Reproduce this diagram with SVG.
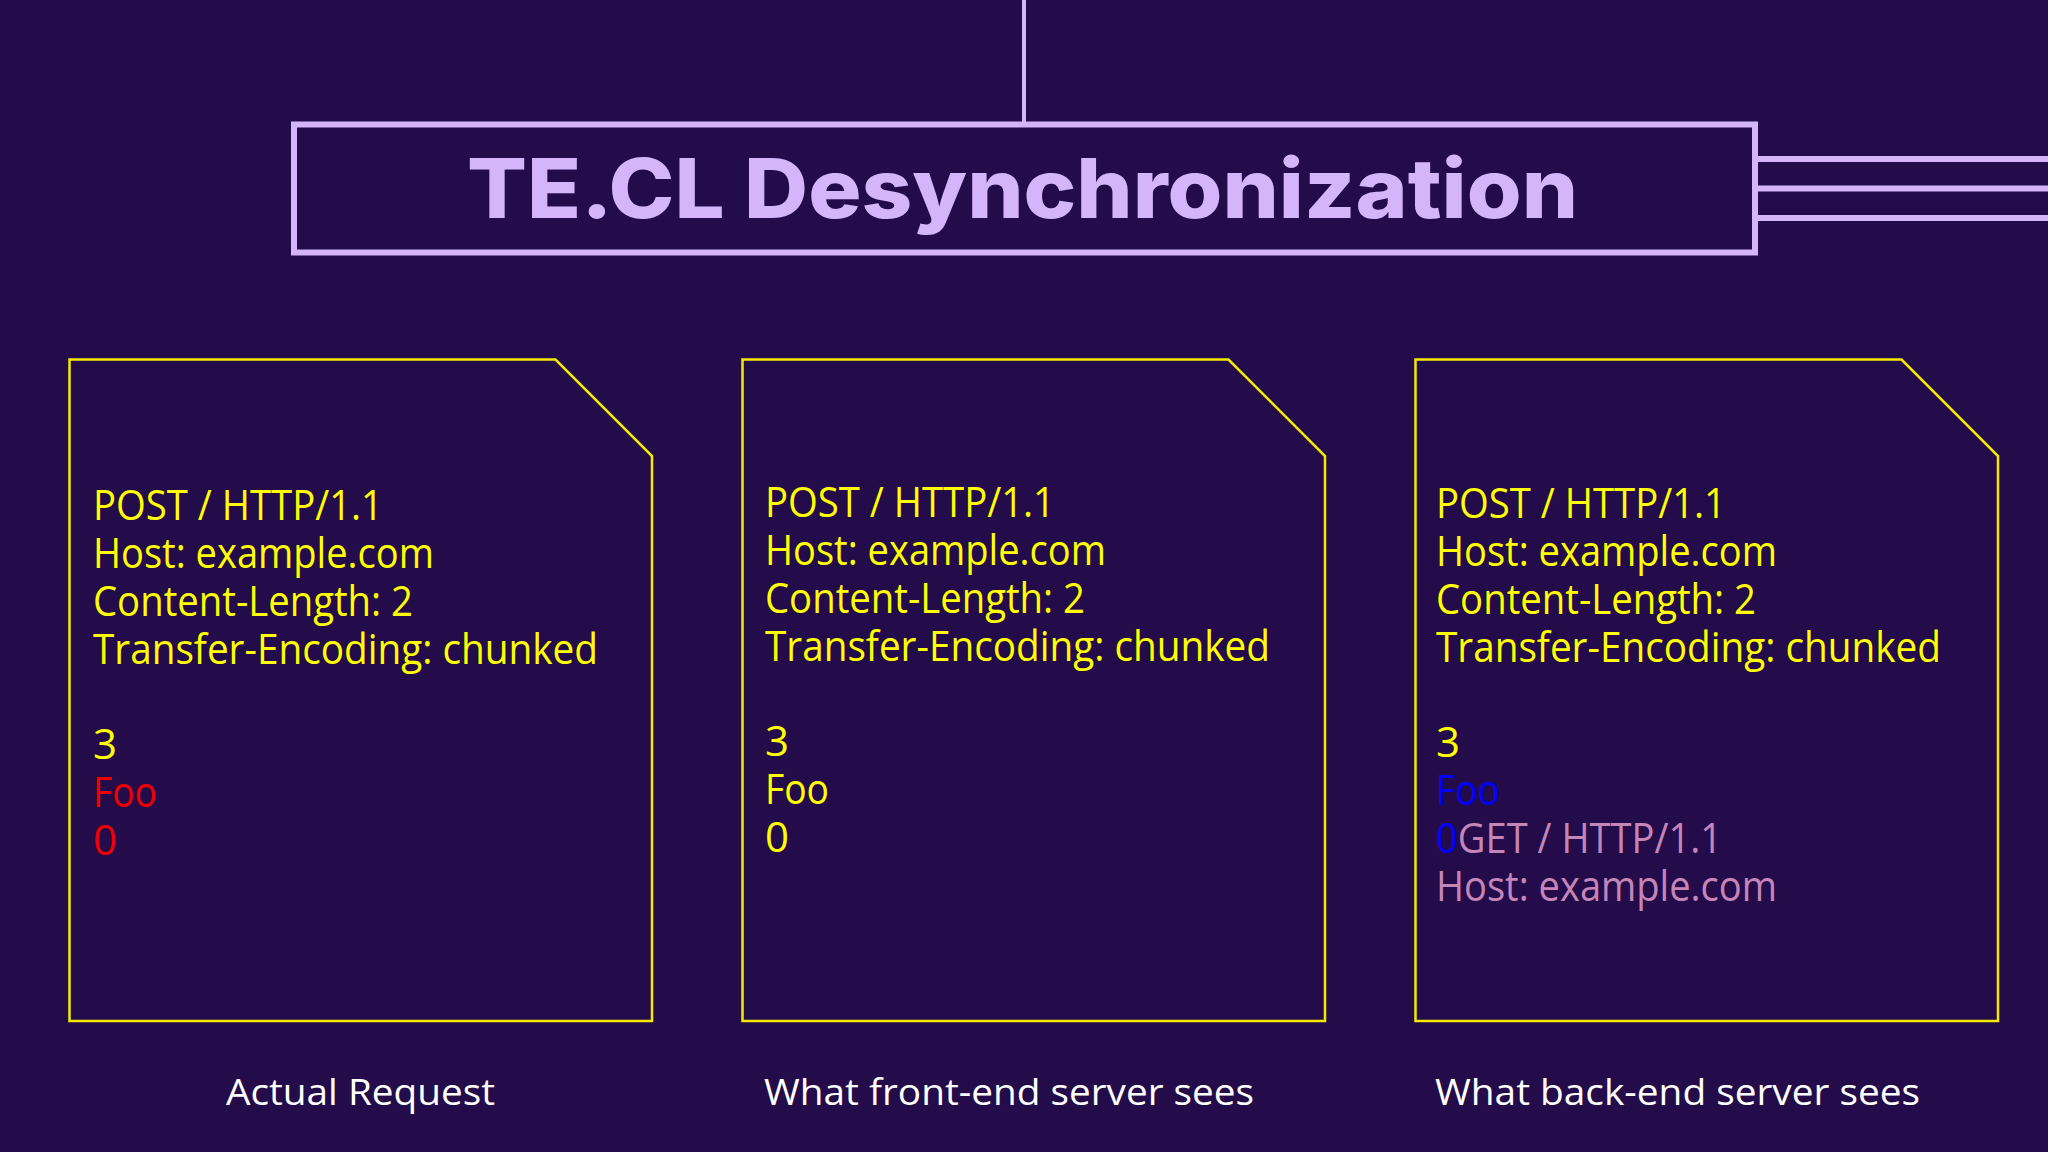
<svg xmlns="http://www.w3.org/2000/svg" width="2048" height="1152" viewBox="0 0 2048 1152">
  <style>
    .bg { fill: #240b4a; }
    .lav { stroke: #d4b5f9; fill: none; }
    .card { fill: none; stroke: #f5eb00; stroke-width: 2.5; }
    .title { font-family: Inter, "Open Sans", sans-serif; font-weight: 800; font-size: 82px; fill: #d4b5f9; }
    .code { font-family: "Open Sans", "Noto Sans", sans-serif; font-size: 42px; fill: #ffff00; }
    .red { fill: #ee0000; }
    .blue { fill: #0000ff; }
    .pink { fill: #c585b8; }
    .cap { font-family: "Open Sans", "Noto Sans", sans-serif; font-size: 37px; fill: #ffffff; }
  </style>
  <rect class="bg" x="0" y="0" width="2048" height="1152"/>

  <g id="connectors">
    <line class="lav" x1="1024" y1="0" x2="1024" y2="122" stroke-width="4"/>
    <line class="lav" x1="1757" y1="159" x2="2048" y2="159" stroke-width="6"/>
    <line class="lav" x1="1757" y1="188.5" x2="2048" y2="188.5" stroke-width="6"/>
    <line class="lav" x1="1757" y1="218" x2="2048" y2="218" stroke-width="6"/>
  </g>

  <g id="title">
    <rect class="lav" x="294" y="124.5" width="1461" height="128" stroke-width="6"/>
    <text class="title" x="467" y="218" textLength="1111" lengthAdjust="spacingAndGlyphs">TE.CL Desynchronization</text>
  </g>

  <g id="card-actual">
    <path class="card" d="M69.5 359.5 H555.5 L652 456 V1021 H69.5 Z"/>
    <text class="code" x="93" y="520" textLength="290" lengthAdjust="spacingAndGlyphs">POST / HTTP/1.1</text>
    <text class="code" x="93" y="568" textLength="341" lengthAdjust="spacingAndGlyphs">Host: example.com</text>
    <text class="code" x="93" y="616" textLength="320" lengthAdjust="spacingAndGlyphs">Content-Length: 2</text>
    <text class="code" x="93" y="664" textLength="505" lengthAdjust="spacingAndGlyphs">Transfer-Encoding: chunked</text>
    <text class="code" x="93" y="759">3</text>
    <text class="code red" x="93" y="807" textLength="64" lengthAdjust="spacingAndGlyphs">Foo</text>
    <text class="code red" x="93" y="855">0</text>
    <text class="cap" x="226" y="1105" textLength="269" lengthAdjust="spacingAndGlyphs">Actual Request</text>
  </g>

  <g id="card-frontend">
    <path class="card" d="M742.5 359.5 H1228.5 L1325 456 V1021 H742.5 Z"/>
    <text class="code" x="765" y="517" textLength="290" lengthAdjust="spacingAndGlyphs">POST / HTTP/1.1</text>
    <text class="code" x="765" y="565" textLength="341" lengthAdjust="spacingAndGlyphs">Host: example.com</text>
    <text class="code" x="765" y="613" textLength="320" lengthAdjust="spacingAndGlyphs">Content-Length: 2</text>
    <text class="code" x="765" y="661" textLength="505" lengthAdjust="spacingAndGlyphs">Transfer-Encoding: chunked</text>
    <text class="code" x="765" y="756">3</text>
    <text class="code" x="765" y="804" textLength="64" lengthAdjust="spacingAndGlyphs">Foo</text>
    <text class="code" x="765" y="852">0</text>
    <text class="cap" x="764" y="1105" textLength="490" lengthAdjust="spacingAndGlyphs">What front-end server sees</text>
  </g>

  <g id="card-backend">
    <path class="card" d="M1415.5 359.5 H1901.5 L1998 456 V1021 H1415.5 Z"/>
    <text class="code" x="1436" y="518" textLength="290" lengthAdjust="spacingAndGlyphs">POST / HTTP/1.1</text>
    <text class="code" x="1436" y="566" textLength="341" lengthAdjust="spacingAndGlyphs">Host: example.com</text>
    <text class="code" x="1436" y="614" textLength="320" lengthAdjust="spacingAndGlyphs">Content-Length: 2</text>
    <text class="code" x="1436" y="662" textLength="505" lengthAdjust="spacingAndGlyphs">Transfer-Encoding: chunked</text>
    <text class="code" x="1436" y="757">3</text>
    <text class="code blue" x="1436" y="805" textLength="64" lengthAdjust="spacingAndGlyphs">Foo</text>
    <text class="code" x="1436" y="853" textLength="286" lengthAdjust="spacingAndGlyphs"><tspan class="blue">0</tspan><tspan class="pink">GET / HTTP/1.1</tspan></text>
    <text class="code pink" x="1436" y="901" textLength="341" lengthAdjust="spacingAndGlyphs">Host: example.com</text>
    <text class="cap" x="1435" y="1105" textLength="485" lengthAdjust="spacingAndGlyphs">What back-end server sees</text>
  </g>
</svg>
